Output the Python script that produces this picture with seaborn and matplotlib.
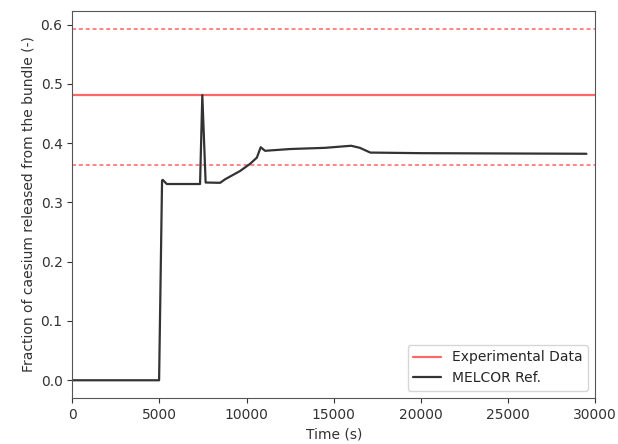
import matplotlib
matplotlib.use("Agg")
import matplotlib.pyplot as plt
import seaborn as sns
import pandas as pd

# Experimental value and its uncertainty bounds
exp_value = 0.481
exp_lower = 0.363
exp_upper = 0.593

# MELCOR reference curve
melcor_time = [0, 4980, 5150, 5190, 5420, 7330, 7460, 7650, 8480, 8770, 9630,
               10200, 10590, 10810, 11060, 12500, 14500, 16000, 16500, 17100,
               20000, 29500]
melcor_frac = [0.0, 0.0, 0.337, 0.338, 0.331, 0.331, 0.481, 0.3335, 0.333, 0.339,
               0.353, 0.365, 0.3755, 0.393, 0.387, 0.390, 0.392, 0.3955, 0.392,
               0.384, 0.383, 0.382]

x_label = "Time (s)"
y_label = "Fraction of caesium released from the bundle (-)"

sns.set_style("ticks")
plt.rcParams['font.family'] = ['DejaVu Sans']

fig = plt.figure(figsize=(6.18, 4.44), dpi=100)
ax = fig.add_axes([0.117, 0.104, 0.846, 0.871])

red = (1.0, 0.4, 0.4)
ax.axhline(exp_value, color=red, lw=1.6, label="Experimental Data")
ax.axhline(exp_lower, color=red, lw=1.3, ls=(0, (2.2, 1.6)), alpha=0.85)
ax.axhline(exp_upper, color=red, lw=1.3, ls=(0, (2.2, 1.6)), alpha=0.85)

df = pd.DataFrame({"t": melcor_time, "f": melcor_frac})
sns.lineplot(data=df, x="t", y="f", ax=ax, color="#333333", lw=1.6,
             estimator=None, sort=False, label="MELCOR Ref.")

ax.set_xlim(0, 30000)
ax.set_ylim(-0.0296, 0.6226)
ax.set_xticks([0, 5000, 10000, 15000, 20000, 25000, 30000])
ax.set_yticks([0.0, 0.1, 0.2, 0.3, 0.4, 0.5, 0.6])
ax.set_xlabel(x_label, fontsize=10, color="#333333")
ax.set_ylabel(y_label, fontsize=10, color="#333333")
ax.tick_params(labelsize=10, colors="#333333")
for s in ax.spines.values():
    s.set_color("#555555")
    s.set_visible(True)
ax.legend(loc="lower right", fontsize=10)

fig.savefig("out.png", dpi=100)
